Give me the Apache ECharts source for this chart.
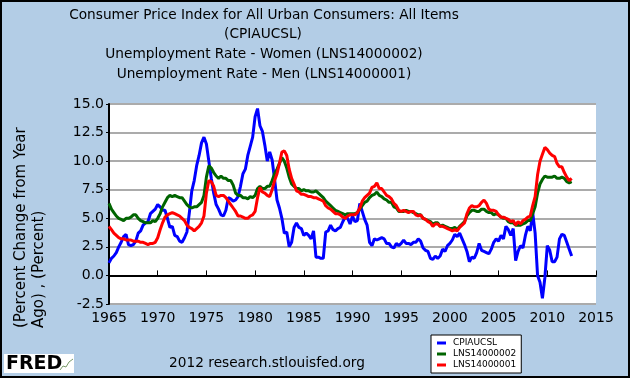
<!DOCTYPE html>
<html><head><meta charset="utf-8">
<script src="https://cdn.jsdelivr.net/npm/echarts@6/dist/echarts.min.js"></script>
<style>html,body{margin:0;padding:0;background:#B3CDE6;}#c{width:630px;height:378px;}</style>
</head><body><div id="c"></div>
<script>
// Quarterly samples (Jan, Apr, Jul, Oct) from 1965; last point mid-2012
const startYear = 1965;
const stepYears = 0.25;
const seriesNames = ['CPIAUCSL', 'LNS14000002', 'LNS14000001'];
const xTickLabels = [1965, 1970, 1975, 1980, 1985, 1990, 1995, 2000, 2005, 2010, 2015];
const yTickLabels = [-2.5, 0.0, 2.5, 5.0, 7.5, 10.0, 12.5, 15.0];

const cpi = [
 1.1,1.5,1.7,2.0, 2.5,2.9,3.4,3.6, 2.7,2.6,2.7,3.0, 3.7,3.9,4.4,4.6, 4.7,5.4,5.6,5.8,
 6.2,6.0,5.7,5.7, 5.0,4.2,4.3,3.5, 3.4,3.0,2.9,3.3, 3.8,5.5,7.4,8.3, 9.6,10.5,11.6,12.1,
 11.5,10.0,8.5,7.2, 6.2,5.8,5.3,5.2, 5.7,6.8,6.7,6.5, 6.6,6.9,7.8,8.9, 9.3,10.5,11.3,12.1,
 13.9,14.6,13.1,12.6, 11.4,10.0,10.8,10.1, 8.4,6.6,5.9,5.0, 3.7,3.8,2.5,2.9, 4.2,4.6,4.2,4.1,
 3.5,3.7,3.5,3.2, 3.9,1.6,1.6,1.5, 1.5,3.8,3.9,4.4, 4.0,3.9,4.1,4.2, 4.7,5.1,5.0,4.5,
 5.2,4.7,4.8,6.3, 5.6,4.9,4.4,2.9, 2.6,3.2,3.1,3.2, 3.3,3.2,2.8,2.8, 2.5,2.4,2.8,2.6,
 2.8,3.1,2.8,2.8, 2.7,2.9,2.9,3.2, 3.0,2.4,2.2,2.1, 1.5,1.4,1.7,1.5, 1.7,2.3,2.1,2.6,
 2.8,3.1,3.6,3.4, 3.7,3.2,2.7,2.1, 1.2,1.6,1.5,2.0, 2.8,2.2,2.1,2.0, 1.9,2.3,2.9,3.2,
 3.0,3.5,3.2,4.3, 4.0,3.5,4.1,1.3, 2.1,2.6,2.4,3.5, 4.3,3.9,5.5,3.7, 0.0,-0.6,-2.0,-0.2,
 2.6,2.2,1.2,1.2, 1.6,3.2,3.6,3.5, 2.9,2.3,1.7
];
const women = [
 6.3,5.8,5.5,5.2, 5.0,4.9,4.8,5.0, 5.0,5.1,5.3,5.3, 5.0,4.8,4.7,4.6, 4.6,4.6,4.8,4.7,
 5.0,5.4,6.0,6.4, 6.8,7.0,6.9,7.0, 6.9,6.8,6.8,6.5, 6.2,6.0,5.9,6.0, 6.0,6.2,6.4,7.0,
 8.6,9.6,9.4,9.0, 8.7,8.5,8.7,8.5, 8.5,8.3,8.3,7.9, 7.2,7.0,7.0,6.8, 6.8,6.7,6.9,6.8,
 7.0,7.6,7.8,7.6, 7.6,7.8,7.8,8.3, 8.9,9.3,9.8,10.3, 10.0,9.4,8.6,8.0, 7.8,7.6,7.6,7.4,
 7.5,7.4,7.4,7.3, 7.3,7.4,7.2,7.0, 6.8,6.5,6.3,6.1, 5.9,5.7,5.6,5.5, 5.4,5.3,5.4,5.4,
 5.4,5.4,5.5,5.8, 6.1,6.4,6.5,6.8, 7.0,7.1,7.3,7.0, 6.9,6.7,6.6,6.4, 6.4,6.0,5.9,5.6,
 5.6,5.6,5.7,5.6, 5.6,5.5,5.4,5.3, 5.3,5.0,4.9,4.8, 4.7,4.5,4.6,4.6, 4.3,4.4,4.3,4.2,
 4.1,4.1,4.2,4.0, 4.3,4.5,4.7,5.2, 5.5,5.7,5.7,5.6, 5.6,5.8,5.8,5.6, 5.5,5.5,5.3,5.4,
 5.3,5.1,5.0,5.0, 4.7,4.6,4.6,4.4, 4.4,4.4,4.5,4.6, 4.8,4.8,5.4,6.0, 7.2,8.0,8.4,8.7,
 8.6,8.6,8.6,8.7, 8.5,8.5,8.6,8.5, 8.2,8.1,8.2
];
const men = [
 4.3,4.0,3.7,3.5, 3.3,3.2,3.2,3.1, 3.1,3.1,3.0,3.0, 3.0,2.9,2.9,2.8, 2.7,2.8,2.8,2.9,
 3.3,4.0,4.6,5.1, 5.3,5.4,5.5,5.4, 5.3,5.2,5.0,4.8, 4.4,4.2,4.1,3.9, 4.1,4.3,4.6,5.2,
 7.2,8.3,8.2,7.8, 7.0,6.9,7.0,7.0, 6.8,6.5,6.2,5.9, 5.6,5.2,5.2,5.1, 5.0,5.0,5.2,5.3,
 5.6,6.8,7.7,7.3, 7.2,7.0,6.9,7.5, 8.3,8.9,9.8,10.8, 10.9,10.5,9.3,8.5, 8.0,7.4,7.3,7.1,
 7.1,7.0,6.9,6.9, 6.8,6.8,6.7,6.6, 6.5,6.1,5.9,5.8, 5.6,5.4,5.4,5.3, 5.1,5.0,5.2,5.3,
 5.3,5.3,5.5,5.9, 6.5,6.8,7.0,7.2, 7.7,7.8,8.1,7.6, 7.6,7.3,7.0,6.9, 6.7,6.3,6.1,5.7,
 5.6,5.7,5.6,5.5, 5.6,5.6,5.3,5.2, 5.3,5.0,4.9,4.7, 4.6,4.3,4.5,4.5, 4.3,4.3,4.2,4.1,
 4.0,3.9,4.0,3.9, 4.2,4.4,4.6,5.4, 5.9,6.1,6.0,6.0, 6.1,6.4,6.6,6.3, 5.8,5.7,5.7,5.6,
 5.3,5.1,5.1,5.0, 4.9,4.7,4.8,4.4, 4.7,4.5,4.8,4.9, 5.1,5.2,6.1,6.9, 8.8,10.0,10.6,11.2,
 11.0,10.7,10.5,10.4, 9.8,9.5,9.5,9.0, 8.6,8.3,8.5
];
const colors = ['#0000FF', '#006400', '#FF0000'];

function toXY(arr) { return arr.map((v, i) => [startYear + i * stepYears, v]); }

const chart = echarts.init(document.getElementById('c'), null, {renderer: 'canvas'});
const FONT = 'DejaVu Sans';
const TF = '13.7px "DejaVu Sans"';
chart.setOption({
  animation: false,
  backgroundColor: '#B3CDE6',
  textStyle: {fontFamily: FONT},
  grid: {left: 109, right: 34, top: 104, bottom: 74, show: true, backgroundColor: '#ffffff', borderWidth: 0},
  xAxis: {
    type: 'value', min: xTickLabels[0], max: xTickLabels[xTickLabels.length - 1], interval: 5,
    axisLine: {lineStyle: {color: '#000', width: 2}},
    axisTick: {inside: true, length: 5, lineStyle: {color: '#000', width: 1}},
    splitLine: {show: false},
    axisLabel: {color: '#000', fontSize: 14, fontFamily: FONT, margin: 7, formatter: v => String(v)}
  },
  yAxis: {
    type: 'value', min: yTickLabels[0], max: yTickLabels[yTickLabels.length - 1], interval: 2.5,
    axisLine: {show: true, lineStyle: {color: '#000', width: 2}},
    axisTick: {show: true, length: 3, lineStyle: {color: '#000', width: 1}},
    splitLine: {show: true, lineStyle: {color: '#ababab', width: 2}},
    axisLabel: {color: '#000', fontSize: 14, fontFamily: FONT, margin: 5, formatter: v => v.toFixed(1)}
  },
  legend: {
    orient: 'vertical', left: 431, top: 335,
    backgroundColor: '#fff', borderColor: '#000', borderWidth: 1, borderRadius: 0,
    padding: [3, 5, 3, 6], itemGap: 1, itemWidth: 9, itemHeight: 3, icon: 'rect',
    textStyle: {fontSize: 9, color: '#000', fontFamily: FONT, lineHeight: 10, padding: [0, 0, 0, 2]},
    data: seriesNames
  },
  series: [
    {name: seriesNames[0], type: 'line', data: toXY(cpi), showSymbol: false, color: colors[0], lineStyle: {width: 3, color: colors[0]}},
    {name: seriesNames[1], type: 'line', data: toXY(women), showSymbol: false, color: colors[1], lineStyle: {width: 3, color: colors[1]}},
    {name: seriesNames[2], type: 'line', data: toXY(men), showSymbol: false, color: colors[2], lineStyle: {width: 3, color: colors[2]}}
  ],
  graphic: [
    {type: 'text', x: 264, y: 15, style: {text: 'Consumer Price Index for All Urban Consumers: All Items', fill: '#000', font: TF, textAlign: 'center', textVerticalAlign: 'middle'}},
    {type: 'text', x: 263, y: 34.5, style: {text: '(CPIAUCSL)', fill: '#000', font: TF, textAlign: 'center', textVerticalAlign: 'middle'}},
    {type: 'text', x: 264, y: 54.5, style: {text: 'Unemployment Rate - Women (LNS14000002)', fill: '#000', font: TF, textAlign: 'center', textVerticalAlign: 'middle'}},
    {type: 'text', x: 264, y: 74, style: {text: 'Unemployment Rate - Men (LNS14000001)', fill: '#000', font: TF, textAlign: 'center', textVerticalAlign: 'middle'}},
    {type: 'text', x: 21, y: 328, rotation: Math.PI / 2, style: {text: '(Percent Change from Year', fill: '#000', font: '15px "DejaVu Sans"', textAlign: 'left', textVerticalAlign: 'middle'}},
    {type: 'text', x: 39, y: 328, rotation: Math.PI / 2, style: {text: 'Ago) , (Percent)', fill: '#000', font: '15px "DejaVu Sans"', textAlign: 'left', textVerticalAlign: 'middle'}},
    {type: 'text', x: 267, y: 363, style: {text: '2012 research.stlouisfed.org', fill: '#000', font: TF, textAlign: 'center', textVerticalAlign: 'middle'}},
    {type: 'rect', shape: {x: 4, y: 354, width: 70, height: 19}, style: {fill: '#fff'}},
    {type: 'text', x: 6, y: 364, style: {text: 'FRED', fill: '#000', font: 'bold 19px "DejaVu Sans"', textAlign: 'left', textVerticalAlign: 'middle'}},
    {type: 'polyline', shape: {points: [[60,370],[63,366],[66,367],[69,362],[73,359]]}, style: {stroke: '#7a9a6a', lineWidth: 1, fill: null}},
    {type: 'rect', shape: {x: 1, y: 1, width: 628, height: 376}, style: {fill: null, stroke: '#000', lineWidth: 2}, z: 100}
  ]
});
</script>
</body></html>
